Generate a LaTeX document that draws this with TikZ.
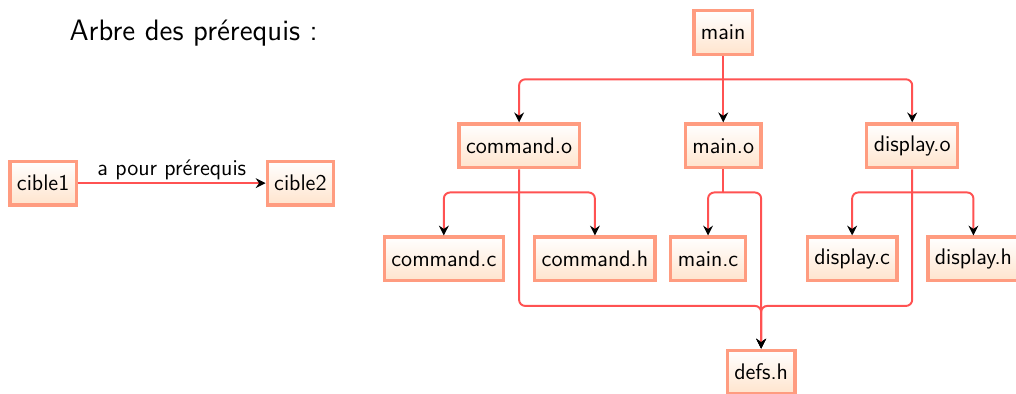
\documentclass[tikz,border=0pt]{standalone}
\usepackage{tikz}
\usetikzlibrary{arrows.meta}
\definecolor{bordure}{RGB}{255,156,128}
\definecolor{fond}{RGB}{255,228,205}
\definecolor{rouge}{RGB}{255,82,82}
\tikzstyle{fichier} = [draw=bordure, line width=1.6pt, top color=white, bottom color=fond, minimum height=21.3pt, inner xsep=3.4pt, font=\sffamily\fontsize{11}{13}\selectfont]
\tikzstyle{lien} = [draw=rouge, line width=0.95pt, rounded corners=3pt]
\tikzstyle{fleche} = [lien, -{Stealth[black, length=4.8pt, width=4.8pt, inset=1.6pt]}]

\begin{document}
\begin{tikzpicture}
	\useasboundingbox (0,0) rectangle (17.42,-6.754);
	\node [anchor=base west, font=\sffamily\fontsize{14.4}{17}\selectfont] (titre) at (1.07,-0.69) {Arbre des prérequis :};
	% legende
	\node [fichier] (cible1) at (0.74,-3.14) {cible1};
	\node [fichier] (cible2) at (5.15,-3.14) {cible2};
	\draw [fleche] (cible1) -- node [above, inner sep=1pt, font=\sffamily\fontsize{11}{13}\selectfont] (legende) {a pour prérequis} (cible2);
	% arbre
	\node [fichier] (main) at (12.40,-0.56) {main};
	\node [fichier] (commando) at (8.90,-2.50) {command.o};
	\node [fichier] (maino) at (12.40,-2.50) {main.o};
	\node [fichier] (displayo) at (15.64,-2.50) {display.o};
	\node [fichier] (commandc) at (7.61,-4.44) {command.c};
	\node [fichier] (commandh) at (10.20,-4.44) {command.h};
	\node [fichier] (mainc) at (12.14,-4.44) {main.c};
	\node [fichier] (displayc) at (14.61,-4.44) {display.c};
	\node [fichier] (displayh) at (16.69,-4.44) {display.h};
	\node [fichier] (defsh) at (13.05,-6.38) {defs.h};
	\coordinate (jmain) at (12.40,-1.36);
	\coordinate (jcommand) at (8.90,-3.30);
	\coordinate (jmaino) at (12.40,-3.30);
	\coordinate (jdisplay) at (15.64,-3.30);
	\coordinate (jdefs) at (13.05,-5.245);
	% main
	\draw [lien] (main) -- (jmain);
	\draw [fleche] (jmain) -| (commando);
	\draw [fleche] (jmain) -- (maino);
	\draw [fleche] (jmain) -| (displayo);
	% command.o
	\draw [fleche] (commando) |- (jdefs) -- (defsh);
	\draw [fleche] (jcommand) -| (commandc);
	\draw [fleche] (jcommand) -| (commandh);
	% main.o
	\draw [lien] (maino) -- (jmaino);
	\draw [fleche] (jmaino) -| (mainc);
	\draw [fleche] (jmaino) -| (defsh);
	% display.o
	\draw [fleche] (displayo) |- (jdefs) -- (defsh);
	\draw [fleche] (jdisplay) -| (displayc);
	\draw [fleche] (jdisplay) -| (displayh);
\end{tikzpicture}
\end{document}
